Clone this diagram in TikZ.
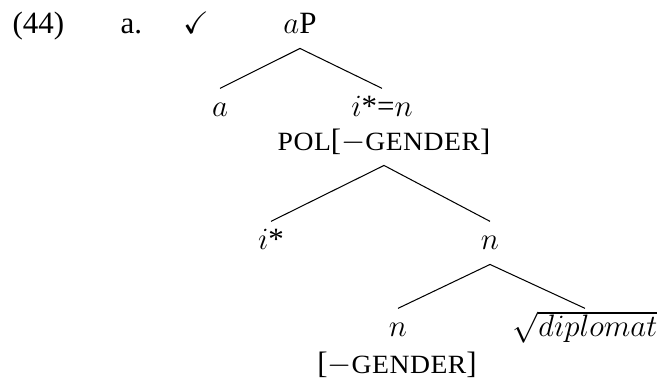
\documentclass[tikz,border=0pt,12pt]{standalone}
\usepackage{amssymb}
\usepackage{fontspec}
\setmainfont{Liberation Serif}
\newfontfamily\featfont[Scale=0.85,FakeStretch=1.05,LetterSpace=2]{Liberation Serif}
\newcommand{\feat}[1]{{\featfont #1}}

\begin{document}
\begin{tikzpicture}[x=0.3875pt, y=-0.3875pt,
		lbl/.style={anchor=base, inner xsep=0pt, inner ysep=2.4pt, text height=8.5pt, text depth=3pt},
		txt/.style={anchor=base, inner sep=0pt}]
		\useasboundingbox (0,0) rectangle (660,379);
		% example number, item and judgement
		\node [txt, anchor=base west] (num) at (12, 34) {(44)};
		\node [txt, anchor=base west] (item) at (120, 34) {a.};
		\node [txt] (ok) at (196, 34) {$\checkmark$};
		% root
		\node [lbl] (aP) at (300, 34) {$a$P};
		\node [lbl] (a) at (220, 117) {$a$};
		\node [lbl] (in) at (382, 117) {$i$*=$n$};
		\node [lbl] (pol) at (384, 151) {\feat{POL}[$-$\feat{GENDER}]};
		% lower levels
		\node [lbl] (istar) at (271, 250) {$i$*};
		\node [lbl] (n1) at (490, 250) {$n$};
		\node [lbl] (n2) at (398, 337) {$n$};
		\node [lbl] (root) at (585, 337) {$\sqrt{diplomat}$};
		\node [lbl] (gen) at (397, 373) {[$-$\feat{GENDER}]};
		% branches
		\draw (aP.south) -- (a.north);
		\draw (aP.south) -- (in.north);
		\draw (pol.south) -- (istar.north);
		\draw (pol.south) -- (n1.north);
		\draw (n1.south) -- (n2.north);
		\draw (n1.south) -- (root.north);
	\end{tikzpicture}
\end{document}
